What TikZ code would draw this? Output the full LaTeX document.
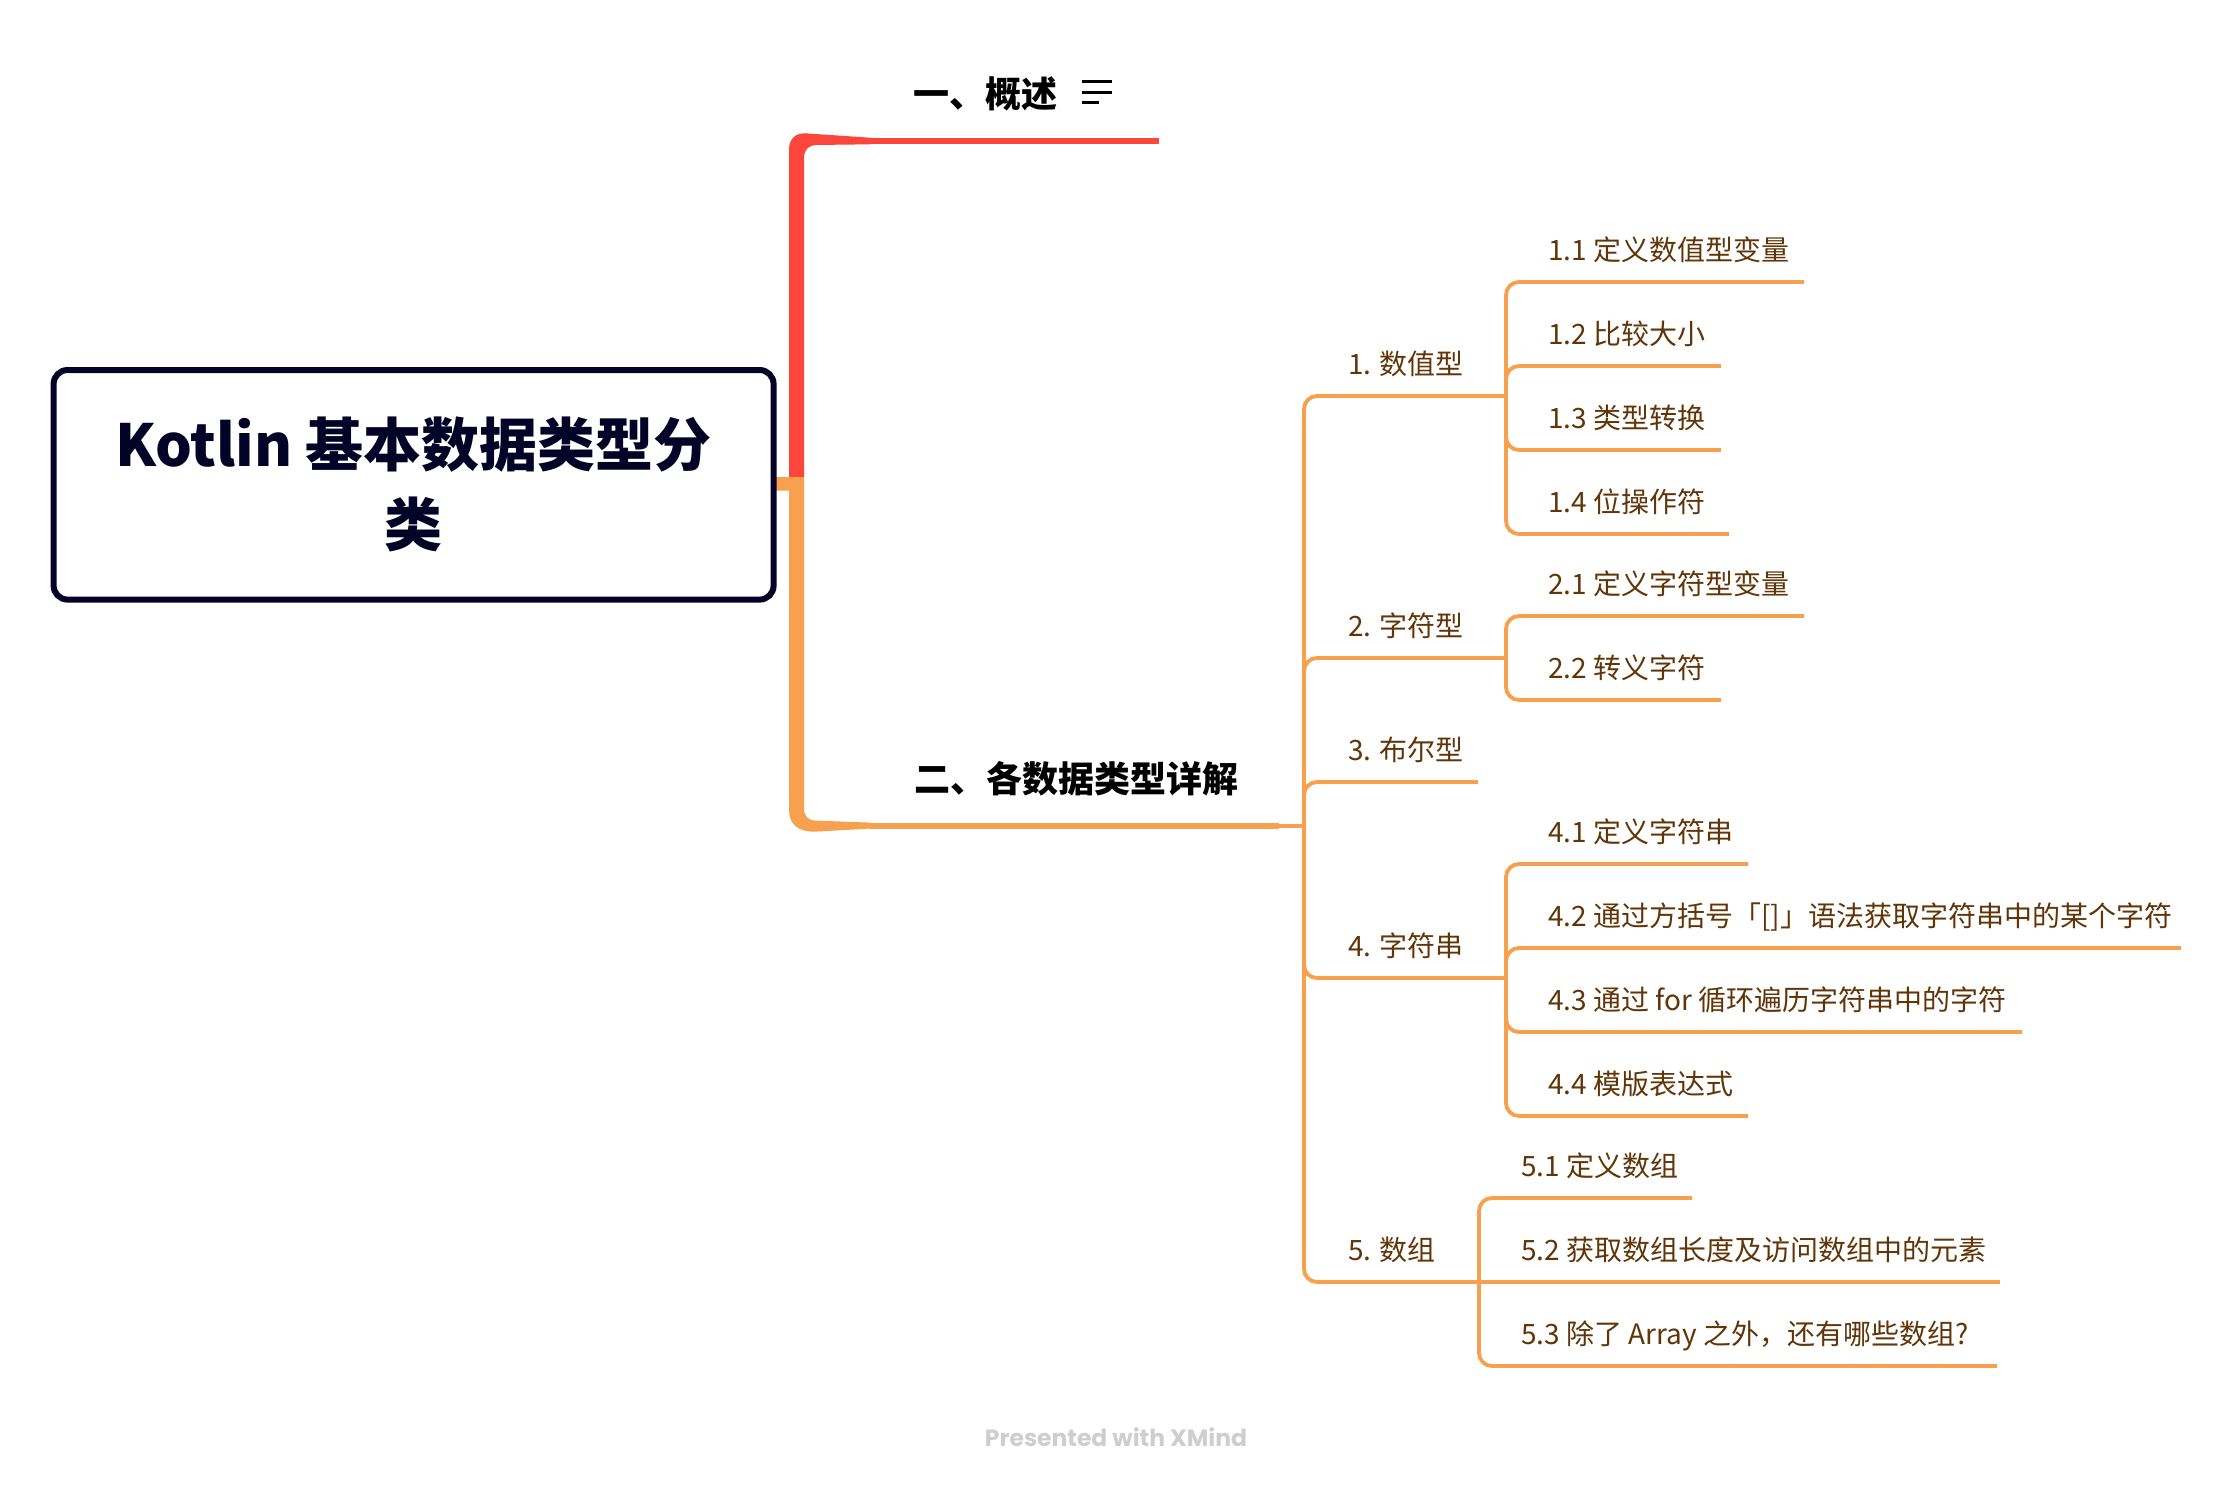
\documentclass[tikz,border=0pt]{standalone}
\usepackage{fontspec}
\newfontfamily\cjk{Noto Sans CJK SC}
\newfontfamily\popp{Poppins}
\definecolor{redc}{RGB}{252,70,60}
\definecolor{orc}{RGB}{247,161,79}
\definecolor{brownc}{RGB}{97,53,8}
\definecolor{navy}{RGB}{3,3,40}
\definecolor{footc}{RGB}{206,206,206}
\begin{document}
\begin{tikzpicture}[x=1pt,y=-1pt,
  l1text/.style={font=\cjk\bfseries\fontsize{36}{40}\selectfont, anchor=base west, inner sep=0pt, text=black},
  subtext/.style={font=\cjk\fontsize{28}{33}\selectfont, anchor=base west, inner sep=0pt, text=brownc},
  subline/.style={draw=orc, line width=3.8pt, rounded corners=13pt},
  iconline/.style={draw=black, line width=3pt},
]
\fill[white] (0,0) rectangle (2232,1488);
\useasboundingbox (0,0) rectangle (2232,1488);

% main branches (thick tapered)
\fill[redc] (789,477) -- (789,150) .. controls (789,139) and (795,133.3) .. (805,133.3)
  -- (870,137.7) -- (870,144.3) -- (816,145) .. controls (809,145) and (804,150) .. (804,157)
  -- (804,477) -- cycle;
\fill[orc] (772,477) -- (804,477) -- (804,808) .. controls (804,816) and (808,820.6) .. (816,820.6)
  -- (870,822.6) -- (870,828.6) -- (814,831.7) .. controls (798,831.7) and (789,824) .. (789,810)
  -- (789,490.5) -- (772,490.5) -- cycle;

% root
\node[draw=navy, line width=6pt, rounded corners=14pt, minimum width=720pt, minimum height=229.6pt,
  align=center, inner sep=0pt, text=navy, font=\cjk\bfseries\fontsize{58}{80}\selectfont]
  (root) at (413.6,484.8) {Kotlin 基本数据类型分\\类};

% level 1
\node[l1text] (t1) at (913,107) {一、概述};
\node[l1text] (t2) at (914,792) {二、各数据类型详解};
\coordinate (t1s) at (870,141);
\coordinate (t1e) at (1159,141);
\coordinate (t2s) at (870,825.6);
\coordinate (t2e) at (1279,825.6);
\coordinate (J) at (1304,825.6);
\draw[redc, line width=6.6pt] (t1s) -- (t1e);
\draw[orc, line width=6pt] (t2s) -- (t2e);
\draw[orc, line width=3.8pt] (t2e) -- (J);

% note icon
\draw[iconline] (1082,81.7) -- (1112,81.7);
\draw[iconline] (1082,92.7) -- (1112,92.7);
\draw[iconline] (1082,102.3) -- (1099,102.3);

% level 2
\coordinate (j1) at (1506,396);
\coordinate (j2) at (1506,658);
\coordinate (e3) at (1478,782);
\coordinate (j4) at (1506,978);
\coordinate (j5) at (1479,1282);
\draw[subline] (J) |- (j1);
\draw[subline] (J) |- (j2);
\draw[subline] (J) |- (e3);
\draw[subline] (J) |- (j4);
\draw[subline] (J) |- (j5);
\node[subtext] (n1) at (1348,374) {1. 数值型};
\node[subtext] (n2) at (1348,636) {2. 字符型};
\node[subtext] (n3) at (1348,760) {3. 布尔型};
\node[subtext] (n4) at (1348,956) {4. 字符串};
\node[subtext] (n5) at (1348,1260) {5. 数组};

% level 3 ends
\coordinate (e11) at (1804,282);
\coordinate (e12) at (1721,366);
\coordinate (e13) at (1721,450);
\coordinate (e14) at (1729,534);
\coordinate (e21) at (1804,616);
\coordinate (e22) at (1721,700);
\coordinate (e41) at (1748,864);
\coordinate (e42) at (2181,948);
\coordinate (e43) at (2022,1032);
\coordinate (e44) at (1748,1116);
\coordinate (e51) at (1692,1198);
\coordinate (e52) at (2000,1282);
\coordinate (e53) at (1997,1366);

\draw[subline] (j1) |- (e11);
\draw[subline] (j1) |- (e12);
\draw[subline] (j1) |- (e13);
\draw[subline] (j1) |- (e14);
\draw[subline] (j2) |- (e21);
\draw[subline] (j2) |- (e22);
\draw[subline] (j4) |- (e41);
\draw[subline] (j4) |- (e42);
\draw[subline] (j4) |- (e43);
\draw[subline] (j4) |- (e44);
\draw[subline] (j5) |- (e51);
\draw[subline] (j5) -- (e52);
\draw[subline] (j5) |- (e53);

\node[subtext] (n11) at (1548,260) {1.1 定义数值型变量};
\node[subtext] (n12) at (1548,344) {1.2 比较大小};
\node[subtext] (n13) at (1548,428) {1.3 类型转换};
\node[subtext] (n14) at (1548,512) {1.4 位操作符};
\node[subtext] (n21) at (1548,594) {2.1 定义字符型变量};
\node[subtext] (n22) at (1548,678) {2.2 转义字符};
\node[subtext] (n41) at (1548,842) {4.1 定义字符串};
\node[subtext] (n42) at (1548,926) {4.2 通过方括号「[]」语法获取字符串中的某个字符};
\node[subtext] (n43) at (1548,1010) {4.3 通过 for 循环遍历字符串中的字符};
\node[subtext] (n44) at (1548,1094) {4.4 模版表达式};
\node[subtext] (n51) at (1521,1176) {5.1 定义数组};
\node[subtext] (n52) at (1521,1260) {5.2 获取数组长度及访问数组中的元素};
\node[subtext] (n53) at (1521,1344) {5.3 除了 Array 之外，还有哪些数组?};

% footer
\node[font=\popp\bfseries\fontsize{23.5}{28}\selectfont, text=footc, anchor=base, inner sep=0pt]
  (foot) at (1116,1446) {Presented with XMind};
\end{tikzpicture}
\end{document}
